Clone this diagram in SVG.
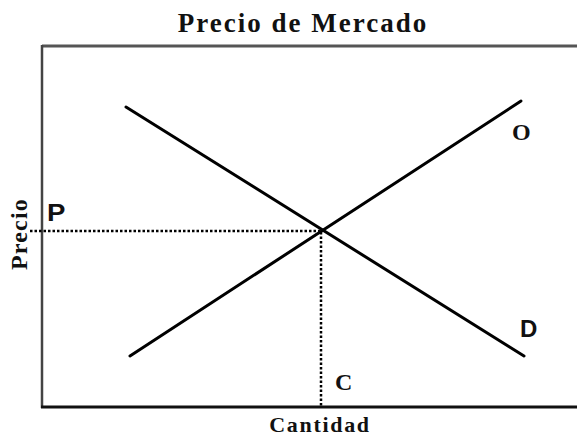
<svg xmlns="http://www.w3.org/2000/svg" width="577" height="438" viewBox="0 0 577 438">
<style>
.serif{font-family:"Liberation Serif","Times New Roman",serif;font-weight:bold;fill:#111}
.sans{font-family:"Liberation Sans",Arial,sans-serif;font-weight:bold;fill:#111}
.curve{stroke:#000;stroke-width:3;stroke-linecap:round;fill:none}
.dot{stroke:#000;stroke-width:2.5;stroke-dasharray:2.5 2;fill:none}
</style>
<rect width="577" height="438" fill="#fff"/>
<g id="frame">
<line x1="42" y1="46" x2="577" y2="46" stroke="#555" stroke-width="3"/>
<line x1="42" y1="45" x2="42" y2="408" stroke="#444" stroke-width="2.5"/>
<line x1="41" y1="407" x2="577" y2="407" stroke="#111" stroke-width="3"/>
</g>
<g id="connectors">
<line class="curve" x1="126" y1="107" x2="524" y2="356"/>
<line class="curve" x1="130" y1="356" x2="521" y2="101"/>
<line class="dot" x1="30" y1="231" x2="320" y2="231"/>
<line class="dot" x1="321" y1="232" x2="321" y2="407"/>
</g>
<g id="title"><text class="serif" x="303" y="32" font-size="27" text-anchor="middle" letter-spacing="2">Precio de Mercado</text></g>
<g id="label-P"><text class="sans" x="47" y="221" font-size="24" transform="translate(47,0) scale(1.15,1) translate(-47,0)">P</text></g>
<g id="label-O"><text class="serif" x="512" y="140" font-size="24">O</text></g>
<g id="label-D"><text class="sans" x="520" y="337" font-size="24">D</text></g>
<g id="label-C"><text class="serif" x="335" y="390" font-size="24">C</text></g>
<g id="xlabel"><text class="serif" x="320" y="432" font-size="22" text-anchor="middle" letter-spacing="1.7">Cantidad</text></g>
<g id="ylabel"><text class="serif" transform="translate(27,234) rotate(-90)" font-size="24" text-anchor="middle" letter-spacing="1.2">Precio</text></g>
</svg>
